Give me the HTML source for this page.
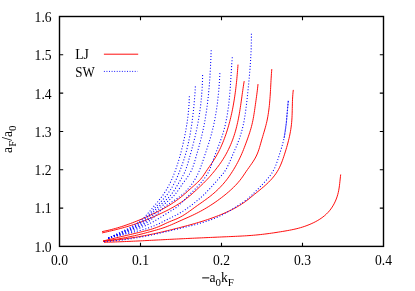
<!DOCTYPE html>
<html><head><meta charset="utf-8"><title>plot</title>
<style>
html,body{margin:0;padding:0;background:#fff;}
svg{display:block;}
text{font-family:"Liberation Serif",serif;fill:#000;}
</style></head><body>
<svg width="415" height="291" viewBox="0 0 415 291">
<rect width="415" height="291" fill="#fff"/>
<g style="mix-blend-mode:multiply">
<g fill="none" stroke="#ff0000" stroke-width="0.95" stroke-linecap="butt">
<path d="M102.10 231.60 L104.05 231.21 L105.99 230.80 L107.93 230.37 L109.86 229.91 L111.78 229.43 L113.70 228.92 L115.61 228.39 L117.52 227.84 L119.41 227.27 L121.31 226.68 L123.19 226.07 L125.07 225.44 L126.94 224.79 L128.81 224.12 L130.67 223.44 L132.53 222.74 L134.38 222.03 L136.22 221.30 L138.06 220.55 L139.89 219.79 L141.72 219.02 L143.54 218.24 L145.35 217.44 L147.16 216.63 L148.97 215.81 L150.76 214.98 L152.56 214.14 L154.35 213.28 L156.13 212.41 L157.90 211.52 L159.66 210.62 L161.42 209.70 L163.16 208.76 L164.90 207.80 L166.62 206.81 L168.33 205.80 L170.03 204.77 L171.71 203.71 L173.37 202.62 L175.02 201.51 L176.64 200.37 L178.24 199.20 L179.82 198.00 L181.37 196.76 L182.89 195.50 L184.39 194.21 L185.87 192.90 L187.35 191.57 L188.81 190.24 L190.29 188.91 L191.77 187.58 L193.27 186.27 L194.76 184.95 L196.24 183.61 L197.69 182.25 L199.09 180.85 L200.43 179.40 L201.69 177.89 L202.87 176.30 L204.00 174.67 L205.09 173.01 L206.17 171.35 L207.28 169.69 L208.40 168.06 L209.53 166.43 L210.67 164.80 L211.79 163.17 L212.90 161.53 L213.98 159.88 L215.02 158.19 L216.03 156.49 L217.01 154.77 L217.95 153.02 L218.86 151.26 L219.74 149.48 L220.59 147.68 L221.41 145.87 L222.20 144.04 L222.96 142.20 L223.69 140.35 L224.40 138.49 L225.09 136.62 L225.75 134.74 L226.39 132.86 L227.00 130.97 L227.59 129.07 L228.16 127.17 L228.71 125.26 L229.24 123.35 L229.75 121.43 L230.24 119.51 L230.71 117.59 L231.17 115.65 L231.60 113.72 L232.02 111.78 L232.42 109.84 L232.80 107.89 L233.17 105.94 L233.52 103.99 L233.85 102.03 L234.18 100.07 L234.48 98.11 L234.78 96.15 L235.06 94.18 L235.32 92.22 L235.58 90.25 L235.82 88.28 L236.05 86.30 L236.28 84.33 L236.49 82.36 L236.69 80.39 L236.88 78.41 L237.06 76.44 L237.24 74.46 L237.40 72.49 L237.56 70.52 L237.71 68.54 L237.86 66.57 L238.00 64.60"/>
<path d="M102.10 232.90 L103.96 232.49 L105.82 232.07 L107.67 231.64 L109.53 231.21 L111.39 230.77 L113.24 230.32 L115.10 229.86 L116.95 229.39 L118.80 228.91 L120.65 228.42 L122.49 227.92 L124.33 227.41 L126.17 226.88 L128.00 226.34 L129.83 225.78 L131.66 225.21 L133.47 224.63 L135.29 224.03 L137.09 223.41 L138.89 222.77 L140.69 222.12 L142.47 221.45 L144.25 220.76 L146.02 220.05 L147.79 219.32 L149.54 218.57 L151.29 217.81 L153.04 217.04 L154.78 216.27 L156.53 215.48 L158.26 214.69 L160.00 213.89 L161.72 213.08 L163.45 212.25 L165.16 211.41 L166.87 210.56 L168.56 209.69 L170.25 208.79 L171.93 207.88 L173.60 206.95 L175.25 205.99 L176.89 205.01 L178.52 204.00 L180.13 202.97 L181.72 201.91 L183.29 200.82 L184.84 199.71 L186.38 198.57 L187.88 197.39 L189.37 196.19 L190.82 194.96 L192.26 193.71 L193.68 192.43 L195.09 191.14 L196.49 189.85 L197.89 188.55 L199.28 187.24 L200.67 185.92 L202.04 184.60 L203.41 183.27 L204.76 181.92 L206.09 180.55 L207.41 179.17 L208.71 177.77 L209.98 176.35 L211.24 174.92 L212.47 173.46 L213.69 171.99 L214.90 170.51 L216.08 169.01 L217.25 167.51 L218.40 165.98 L219.53 164.44 L220.63 162.88 L221.70 161.30 L222.74 159.70 L223.75 158.08 L224.74 156.43 L225.69 154.77 L226.61 153.09 L227.50 151.40 L228.35 149.68 L229.18 147.96 L229.98 146.21 L230.75 144.46 L231.48 142.69 L232.19 140.90 L232.86 139.11 L233.50 137.31 L234.12 135.50 L234.70 133.67 L235.25 131.85 L235.77 130.01 L236.26 128.17 L236.73 126.32 L237.17 124.46 L237.59 122.60 L237.99 120.74 L238.37 118.86 L238.73 116.99 L239.08 115.11 L239.41 113.23 L239.72 111.34 L240.03 109.45 L240.32 107.56 L240.61 105.67 L240.88 103.78 L241.16 101.88 L241.42 99.99 L241.69 98.09 L241.95 96.20 L242.21 94.30 L242.48 92.41 L242.75 90.52 L243.02 88.63 L243.30 86.74 L243.59 84.86 L243.89 82.98 L244.20 81.10"/>
<path d="M103.00 241.00 L104.99 240.52 L106.98 240.04 L108.96 239.56 L110.95 239.09 L112.94 238.61 L114.92 238.14 L116.90 237.67 L118.89 237.20 L120.87 236.74 L122.85 236.27 L124.84 235.80 L126.82 235.33 L128.81 234.87 L130.79 234.40 L132.78 233.93 L134.76 233.45 L136.75 232.98 L138.74 232.50 L140.73 232.02 L142.72 231.54 L144.70 231.05 L146.68 230.53 L148.66 230.00 L150.62 229.43 L152.58 228.84 L154.51 228.20 L156.43 227.51 L158.33 226.78 L160.21 225.98 L162.06 225.14 L163.91 224.27 L165.76 223.40 L167.61 222.54 L169.48 221.72 L171.37 220.95 L173.28 220.21 L175.18 219.47 L177.06 218.68 L178.89 217.81 L180.70 216.87 L182.46 215.86 L184.20 214.80 L185.92 213.69 L187.61 212.54 L189.29 211.36 L190.96 210.16 L192.62 208.96 L194.28 207.74 L195.94 206.54 L197.61 205.35 L199.28 204.17 L200.96 203.00 L202.62 201.82 L204.29 200.64 L205.94 199.45 L207.58 198.24 L209.21 197.01 L210.81 195.75 L212.39 194.46 L213.95 193.13 L215.48 191.78 L216.99 190.39 L218.47 188.97 L219.91 187.51 L221.33 186.03 L222.71 184.52 L224.05 182.98 L225.37 181.41 L226.64 179.80 L227.87 178.18 L229.06 176.52 L230.22 174.84 L231.34 173.13 L232.44 171.41 L233.52 169.68 L234.57 167.93 L235.60 166.16 L236.60 164.38 L237.57 162.59 L238.51 160.77 L239.42 158.95 L240.29 157.10 L241.13 155.25 L241.95 153.38 L242.74 151.49 L243.50 149.60 L244.25 147.70 L244.98 145.79 L245.70 143.88 L246.41 141.96 L247.11 140.04 L247.80 138.11 L248.48 136.18 L249.13 134.25 L249.77 132.31 L250.37 130.36 L250.95 128.40 L251.49 126.43 L251.99 124.46 L252.45 122.47 L252.87 120.48 L253.26 118.48 L253.62 116.47 L253.95 114.45 L254.27 112.43 L254.57 110.41 L254.86 108.39 L255.15 106.37 L255.44 104.34 L255.72 102.32 L256.01 100.30 L256.29 98.28 L256.57 96.26 L256.84 94.24 L257.10 92.21 L257.35 90.19 L257.58 88.16 L257.80 86.13 L258.00 84.10"/>
<path d="M103.00 241.20 L105.26 240.91 L107.51 240.60 L109.77 240.28 L112.02 239.94 L114.27 239.59 L116.52 239.23 L118.76 238.85 L121.01 238.45 L123.25 238.04 L125.48 237.61 L127.72 237.17 L129.95 236.71 L132.17 236.23 L134.40 235.74 L136.61 235.22 L138.83 234.69 L141.04 234.14 L143.24 233.57 L145.44 232.99 L147.64 232.40 L149.84 231.80 L152.03 231.19 L154.23 230.58 L156.42 229.96 L158.61 229.33 L160.79 228.66 L162.96 227.97 L165.11 227.22 L167.24 226.43 L169.35 225.59 L171.45 224.71 L173.54 223.80 L175.62 222.88 L177.70 221.94 L179.78 221.00 L181.86 220.07 L183.94 219.15 L186.02 218.23 L188.10 217.30 L190.18 216.36 L192.25 215.41 L194.30 214.43 L196.34 213.43 L198.37 212.40 L200.38 211.33 L202.37 210.24 L204.35 209.11 L206.31 207.96 L208.26 206.77 L210.19 205.56 L212.10 204.32 L214.00 203.05 L215.88 201.75 L217.74 200.43 L219.58 199.08 L221.41 197.70 L223.22 196.30 L225.02 194.87 L226.79 193.41 L228.54 191.93 L230.26 190.41 L231.94 188.86 L233.59 187.28 L235.20 185.66 L236.76 184.00 L238.27 182.30 L239.73 180.55 L241.13 178.77 L242.47 176.93 L243.76 175.06 L245.03 173.17 L246.31 171.28 L247.61 169.40 L248.94 167.54 L250.28 165.67 L251.59 163.80 L252.87 161.91 L254.09 159.99 L255.24 158.04 L256.29 156.03 L257.23 153.98 L258.06 151.88 L258.82 149.73 L259.51 147.56 L260.15 145.36 L260.78 143.16 L261.40 140.95 L262.04 138.75 L262.69 136.56 L263.34 134.37 L263.99 132.19 L264.63 130.01 L265.25 127.82 L265.84 125.63 L266.40 123.43 L266.91 121.22 L267.37 119.00 L267.79 116.76 L268.17 114.52 L268.51 112.27 L268.82 110.01 L269.10 107.75 L269.35 105.48 L269.57 103.20 L269.77 100.93 L269.95 98.64 L270.12 96.36 L270.27 94.07 L270.41 91.79 L270.54 89.50 L270.66 87.22 L270.78 84.94 L270.90 82.66 L271.03 80.38 L271.16 78.11 L271.30 75.85 L271.45 73.59 L271.62 71.34 L271.80 69.10"/>
<path d="M103.00 241.30 L105.32 241.10 L107.64 240.89 L109.95 240.66 L112.27 240.42 L114.58 240.17 L116.89 239.90 L119.20 239.62 L121.51 239.33 L123.82 239.02 L126.12 238.71 L128.43 238.37 L130.73 238.03 L133.03 237.67 L135.32 237.30 L137.62 236.91 L139.91 236.52 L142.20 236.10 L144.49 235.68 L146.78 235.24 L149.06 234.79 L151.34 234.32 L153.62 233.85 L155.89 233.35 L158.16 232.85 L160.43 232.33 L162.70 231.81 L164.96 231.28 L167.23 230.73 L169.49 230.18 L171.75 229.62 L174.00 229.06 L176.26 228.49 L178.52 227.91 L180.77 227.33 L183.03 226.75 L185.28 226.15 L187.53 225.55 L189.77 224.94 L192.02 224.32 L194.25 223.68 L196.49 223.03 L198.72 222.37 L200.95 221.69 L203.17 221.00 L205.39 220.29 L207.60 219.55 L209.80 218.80 L212.00 218.03 L214.19 217.23 L216.37 216.41 L218.54 215.57 L220.71 214.70 L222.87 213.80 L225.02 212.88 L227.15 211.92 L229.27 210.93 L231.38 209.91 L233.46 208.84 L235.52 207.74 L237.56 206.60 L239.56 205.41 L241.54 204.18 L243.48 202.89 L245.39 201.56 L247.25 200.18 L249.08 198.74 L250.88 197.26 L252.67 195.78 L254.48 194.30 L256.29 192.84 L258.10 191.37 L259.91 189.90 L261.70 188.42 L263.47 186.91 L265.22 185.38 L266.94 183.81 L268.62 182.20 L270.25 180.53 L271.83 178.81 L273.34 177.03 L274.78 175.19 L276.14 173.30 L277.40 171.34 L278.55 169.33 L279.60 167.26 L280.57 165.14 L281.46 162.99 L282.30 160.81 L283.09 158.60 L283.84 156.39 L284.57 154.17 L285.28 151.95 L285.97 149.72 L286.64 147.49 L287.27 145.25 L287.88 143.01 L288.46 140.76 L289.01 138.50 L289.52 136.23 L289.98 133.95 L290.41 131.66 L290.79 129.36 L291.13 127.05 L291.42 124.74 L291.65 122.43 L291.84 120.11 L291.98 117.79 L292.09 115.47 L292.17 113.14 L292.23 110.81 L292.28 108.48 L292.33 106.16 L292.38 103.83 L292.45 101.50 L292.54 99.18 L292.66 96.85 L292.83 94.53 L293.04 92.21 L293.30 89.90"/>
<path d="M104.00 242.30 L106.27 242.24 L108.53 242.17 L110.80 242.09 L113.07 242.02 L115.33 241.94 L117.60 241.85 L119.87 241.77 L122.13 241.68 L124.40 241.58 L126.66 241.49 L128.93 241.39 L131.19 241.29 L133.46 241.18 L135.72 241.08 L137.99 240.97 L140.26 240.86 L142.52 240.75 L144.79 240.64 L147.05 240.53 L149.32 240.41 L151.58 240.30 L153.85 240.18 L156.11 240.06 L158.37 239.95 L160.64 239.83 L162.90 239.71 L165.17 239.60 L167.43 239.48 L169.70 239.37 L171.96 239.25 L174.23 239.14 L176.49 239.03 L178.76 238.91 L181.02 238.80 L183.29 238.69 L185.55 238.59 L187.82 238.48 L190.08 238.37 L192.35 238.27 L194.61 238.16 L196.88 238.06 L199.14 237.96 L201.41 237.86 L203.67 237.75 L205.94 237.65 L208.20 237.55 L210.47 237.45 L212.73 237.35 L215.00 237.25 L217.27 237.15 L219.53 237.05 L221.80 236.95 L224.06 236.85 L226.33 236.75 L228.60 236.65 L230.86 236.55 L233.13 236.45 L235.40 236.35 L237.66 236.24 L239.93 236.13 L242.19 236.01 L244.46 235.88 L246.72 235.74 L248.98 235.59 L251.24 235.43 L253.50 235.24 L255.76 235.04 L258.02 234.82 L260.27 234.58 L262.52 234.33 L264.77 234.06 L267.02 233.77 L269.27 233.47 L271.52 233.16 L273.76 232.83 L276.01 232.49 L278.25 232.14 L280.49 231.78 L282.73 231.41 L284.97 231.04 L287.21 230.65 L289.44 230.24 L291.67 229.81 L293.89 229.34 L296.10 228.84 L298.30 228.29 L300.48 227.68 L302.65 227.02 L304.81 226.31 L306.94 225.53 L309.05 224.70 L311.14 223.80 L313.21 222.85 L315.24 221.83 L317.23 220.75 L319.18 219.58 L321.08 218.34 L322.92 217.00 L324.69 215.58 L326.39 214.06 L327.99 212.45 L329.49 210.75 L330.89 208.96 L332.18 207.09 L333.36 205.14 L334.44 203.14 L335.41 201.09 L336.28 198.99 L337.05 196.85 L337.71 194.68 L338.27 192.48 L338.73 190.26 L339.11 188.02 L339.43 185.77 L339.70 183.52 L339.94 181.26 L340.18 179.00 L340.43 176.74 L340.70 174.50"/>
</g>
<g fill="none" stroke="#0000ff" stroke-width="1.05" stroke-dasharray="1.05 1.9">
<path d="M108.30 238.20 L109.57 237.54 L110.86 236.88 L112.16 236.24 L113.48 235.60 L114.80 234.97 L116.12 234.34 L117.46 233.71 L118.80 233.08 L120.14 232.45 L121.48 231.82 L122.81 231.18 L124.15 230.54 L125.48 229.89 L126.81 229.22 L128.12 228.55 L129.43 227.86 L130.73 227.15 L132.01 226.43 L133.28 225.68 L134.53 224.92 L135.76 224.13 L136.97 223.32 L138.17 222.49 L139.33 221.62 L140.48 220.72 L141.59 219.80 L142.68 218.84 L143.74 217.84 L144.77 216.82 L145.78 215.77 L146.77 214.69 L147.75 213.60 L148.71 212.49 L149.66 211.37 L150.60 210.24 L151.54 209.11 L152.48 207.98 L153.43 206.85 L154.38 205.72 L155.33 204.61 L156.28 203.49 L157.22 202.37 L158.16 201.25 L159.09 200.12 L160.01 198.99 L160.91 197.84 L161.80 196.68 L162.66 195.50 L163.50 194.31 L164.32 193.10 L165.12 191.87 L165.90 190.63 L166.66 189.38 L167.39 188.11 L168.11 186.83 L168.81 185.54 L169.49 184.23 L170.14 182.92 L170.79 181.59 L171.41 180.26 L172.01 178.92 L172.60 177.57 L173.17 176.21 L173.73 174.85 L174.27 173.48 L174.79 172.11 L175.30 170.73 L175.79 169.35 L176.27 167.96 L176.74 166.58 L177.20 165.19 L177.64 163.79 L178.08 162.40 L178.50 161.00 L178.92 159.60 L179.33 158.19 L179.73 156.79 L180.13 155.38 L180.52 153.97 L180.90 152.56 L181.27 151.14 L181.64 149.73 L182.00 148.31 L182.35 146.88 L182.69 145.46 L183.03 144.04 L183.35 142.61 L183.67 141.18 L183.99 139.75 L184.29 138.32 L184.59 136.88 L184.88 135.45 L185.16 134.01 L185.43 132.57 L185.69 131.13 L185.95 129.68 L186.20 128.24 L186.44 126.79 L186.67 125.35 L186.89 123.90 L187.11 122.45 L187.31 121.00 L187.51 119.54 L187.70 118.09 L187.87 116.64 L188.04 115.18 L188.20 113.73 L188.35 112.27 L188.49 110.81 L188.62 109.35 L188.74 107.89 L188.86 106.43 L188.96 104.97 L189.05 103.51 L189.13 102.05 L189.20 100.59 L189.26 99.13 L189.31 97.66 L189.35 96.20" stroke-dasharray="1.050 1.888"/>
<path d="M108.30 238.20 L109.69 237.53 L111.10 236.88 L112.52 236.24 L113.95 235.60 L115.40 234.97 L116.85 234.34 L118.31 233.71 L119.78 233.09 L121.25 232.46 L122.71 231.82 L124.18 231.18 L125.64 230.52 L127.10 229.86 L128.54 229.18 L129.98 228.48 L131.41 227.77 L132.82 227.04 L134.21 226.28 L135.59 225.50 L136.94 224.69 L138.27 223.86 L139.58 222.99 L140.86 222.09 L142.11 221.15 L143.33 220.18 L144.52 219.16 L145.67 218.11 L146.79 217.02 L147.88 215.89 L148.96 214.74 L150.01 213.57 L151.06 212.39 L152.10 211.20 L153.14 210.00 L154.18 208.81 L155.23 207.62 L156.30 206.46 L157.38 205.30 L158.47 204.16 L159.57 203.02 L160.67 201.89 L161.76 200.75 L162.83 199.60 L163.89 198.44 L164.93 197.26 L165.95 196.07 L166.93 194.84 L167.88 193.59 L168.80 192.32 L169.69 191.02 L170.55 189.70 L171.38 188.37 L172.19 187.01 L172.98 185.64 L173.74 184.25 L174.47 182.84 L175.19 181.43 L175.89 180.00 L176.56 178.56 L177.22 177.11 L177.86 175.66 L178.49 174.20 L179.10 172.73 L179.69 171.26 L180.28 169.79 L180.85 168.32 L181.41 166.84 L181.95 165.37 L182.48 163.88 L183.00 162.40 L183.50 160.91 L183.99 159.41 L184.46 157.91 L184.92 156.41 L185.36 154.90 L185.79 153.38 L186.21 151.86 L186.61 150.34 L187.00 148.81 L187.38 147.28 L187.74 145.74 L188.09 144.20 L188.44 142.66 L188.77 141.12 L189.09 139.57 L189.40 138.03 L189.70 136.48 L189.99 134.93 L190.27 133.37 L190.54 131.82 L190.80 130.26 L191.06 128.71 L191.30 127.15 L191.54 125.59 L191.77 124.03 L191.99 122.47 L192.21 120.91 L192.41 119.35 L192.61 117.79 L192.81 116.22 L192.99 114.66 L193.17 113.09 L193.35 111.52 L193.51 109.96 L193.67 108.39 L193.83 106.82 L193.98 105.25 L194.12 103.68 L194.26 102.11 L194.39 100.54 L194.52 98.97 L194.65 97.40 L194.77 95.83 L194.88 94.26 L194.99 92.69 L195.10 91.12 L195.20 89.54 L195.30 87.97 L195.40 86.40" stroke-dasharray="1.050 1.914"/>
<path d="M108.30 238.20 L109.82 237.52 L111.35 236.86 L112.91 236.20 L114.48 235.56 L116.06 234.92 L117.66 234.28 L119.26 233.65 L120.87 233.01 L122.48 232.37 L124.09 231.72 L125.69 231.06 L127.29 230.39 L128.89 229.70 L130.47 229.00 L132.04 228.27 L133.59 227.52 L135.13 226.74 L136.64 225.94 L138.13 225.10 L139.59 224.23 L141.03 223.32 L142.43 222.37 L143.80 221.37 L145.13 220.34 L146.42 219.25 L147.67 218.11 L148.88 216.93 L150.06 215.71 L151.23 214.47 L152.38 213.21 L153.53 211.94 L154.68 210.67 L155.84 209.42 L157.02 208.18 L158.24 206.96 L159.48 205.79 L160.75 204.64 L162.04 203.50 L163.33 202.38 L164.62 201.25 L165.89 200.11 L167.13 198.96 L168.35 197.77 L169.51 196.54 L170.62 195.27 L171.68 193.95 L172.69 192.58 L173.66 191.18 L174.59 189.75 L175.51 188.30 L176.40 186.84 L177.28 185.36 L178.17 183.89 L179.05 182.42 L179.94 180.94 L180.81 179.47 L181.67 177.99 L182.50 176.51 L183.30 175.00 L184.07 173.49 L184.79 171.95 L185.45 170.39 L186.07 168.80 L186.63 167.20 L187.16 165.58 L187.66 163.94 L188.15 162.30 L188.61 160.66 L189.08 159.01 L189.54 157.36 L190.01 155.72 L190.47 154.07 L190.93 152.43 L191.38 150.79 L191.83 149.14 L192.28 147.50 L192.72 145.85 L193.15 144.20 L193.58 142.55 L194.00 140.90 L194.42 139.25 L194.82 137.60 L195.22 135.94 L195.60 134.28 L195.98 132.62 L196.34 130.96 L196.70 129.29 L197.04 127.62 L197.38 125.95 L197.70 124.28 L198.01 122.60 L198.32 120.92 L198.61 119.24 L198.89 117.56 L199.16 115.87 L199.42 114.18 L199.67 112.50 L199.92 110.81 L200.15 109.11 L200.37 107.42 L200.58 105.73 L200.77 104.03 L200.96 102.33 L201.14 100.63 L201.31 98.94 L201.47 97.24 L201.62 95.54 L201.76 93.83 L201.88 92.13 L202.00 90.43 L202.11 88.73 L202.21 87.02 L202.29 85.32 L202.37 83.62 L202.44 81.91 L202.49 80.21 L202.54 78.51 L202.57 76.80 L202.60 75.10" stroke-dasharray="1.050 1.879"/>
<path d="M108.30 238.20 L110.05 237.48 L111.83 236.77 L113.64 236.08 L115.46 235.40 L117.30 234.73 L119.16 234.06 L121.02 233.38 L122.89 232.71 L124.75 232.02 L126.62 231.32 L128.48 230.60 L130.33 229.86 L132.16 229.10 L133.98 228.30 L135.78 227.48 L137.55 226.62 L139.29 225.71 L141.00 224.77 L142.67 223.77 L144.31 222.72 L145.90 221.62 L147.44 220.46 L148.94 219.23 L150.37 217.94 L151.77 216.58 L153.13 215.19 L154.47 213.77 L155.80 212.33 L157.14 210.90 L158.49 209.48 L159.87 208.08 L161.29 206.73 L162.76 205.43 L164.26 204.16 L165.78 202.92 L167.30 201.68 L168.81 200.44 L170.29 199.17 L171.73 197.86 L173.12 196.51 L174.43 195.09 L175.67 193.60 L176.86 192.06 L178.01 190.49 L179.13 188.88 L180.25 187.26 L181.36 185.64 L182.49 184.02 L183.64 182.42 L184.81 180.83 L185.97 179.25 L187.12 177.66 L188.23 176.05 L189.29 174.42 L190.28 172.75 L191.18 171.04 L191.99 169.28 L192.72 167.47 L193.37 165.63 L193.98 163.76 L194.55 161.88 L195.10 159.99 L195.65 158.11 L196.20 156.22 L196.75 154.34 L197.29 152.46 L197.82 150.58 L198.35 148.70 L198.88 146.82 L199.39 144.94 L199.90 143.06 L200.40 141.17 L200.88 139.29 L201.36 137.40 L201.82 135.50 L202.26 133.61 L202.69 131.71 L203.11 129.80 L203.51 127.90 L203.89 125.98 L204.27 124.07 L204.63 122.15 L204.97 120.23 L205.31 118.30 L205.63 116.38 L205.94 114.45 L206.23 112.51 L206.52 110.58 L206.79 108.64 L207.05 106.70 L207.31 104.76 L207.55 102.82 L207.78 100.87 L208.00 98.92 L208.21 96.98 L208.41 95.03 L208.61 93.08 L208.79 91.12 L208.97 89.17 L209.13 87.22 L209.30 85.27 L209.45 83.31 L209.59 81.36 L209.73 79.40 L209.87 77.45 L209.99 75.50 L210.11 73.54 L210.23 71.59 L210.34 69.64 L210.44 67.69 L210.54 65.74 L210.63 63.79 L210.72 61.85 L210.81 59.90 L210.90 57.96 L210.98 56.01 L211.05 54.07 L211.13 52.14 L211.20 50.20" stroke-dasharray="1.050 1.882"/>
<path d="M108.30 238.20 L109.95 237.58 L111.63 236.96 L113.32 236.37 L115.03 235.78 L116.75 235.19 L118.48 234.61 L120.22 234.03 L121.97 233.44 L123.71 232.85 L125.46 232.25 L127.21 231.65 L128.96 231.02 L130.69 230.38 L132.42 229.72 L134.13 229.04 L135.84 228.33 L137.52 227.60 L139.18 226.83 L140.83 226.03 L142.44 225.19 L144.04 224.32 L145.60 223.40 L147.13 222.44 L148.62 221.42 L150.08 220.36 L151.50 219.25 L152.88 218.08 L154.22 216.86 L155.54 215.60 L156.84 214.33 L158.13 213.04 L159.42 211.75 L160.72 210.48 L162.05 209.23 L163.40 208.01 L164.79 206.85 L166.22 205.74 L167.69 204.68 L169.19 203.65 L170.71 202.65 L172.24 201.66 L173.77 200.68 L175.31 199.70 L176.83 198.70 L178.33 197.67 L179.81 196.60 L181.25 195.49 L182.65 194.32 L184.01 193.11 L185.33 191.84 L186.61 190.53 L187.85 189.18 L189.05 187.79 L190.21 186.36 L191.32 184.89 L192.40 183.39 L193.43 181.86 L194.41 180.30 L195.36 178.71 L196.26 177.10 L197.12 175.47 L197.93 173.82 L198.70 172.16 L199.42 170.48 L200.10 168.78 L200.75 167.08 L201.36 165.37 L201.96 163.66 L202.55 161.94 L203.13 160.22 L203.71 158.50 L204.29 156.78 L204.87 155.05 L205.45 153.33 L206.03 151.61 L206.61 149.88 L207.18 148.16 L207.75 146.43 L208.31 144.70 L208.85 142.96 L209.39 141.23 L209.92 139.49 L210.43 137.74 L210.93 135.99 L211.42 134.24 L211.88 132.49 L212.33 130.72 L212.77 128.96 L213.18 127.19 L213.58 125.42 L213.97 123.64 L214.34 121.86 L214.70 120.08 L215.04 118.29 L215.37 116.50 L215.68 114.71 L215.98 112.91 L216.27 111.11 L216.55 109.31 L216.81 107.51 L217.06 105.71 L217.30 103.90 L217.53 102.09 L217.74 100.29 L217.95 98.48 L218.14 96.66 L218.33 94.85 L218.50 93.04 L218.67 91.23 L218.83 89.41 L218.98 87.60 L219.12 85.78 L219.25 83.97 L219.38 82.16 L219.49 80.34 L219.61 78.53 L219.71 76.72 L219.81 74.91 L219.90 73.10" stroke-dasharray="1.050 1.907"/>
<path d="M108.30 238.20 L110.24 237.66 L112.18 237.12 L114.12 236.57 L116.06 236.01 L118.01 235.45 L119.96 234.87 L121.90 234.29 L123.85 233.69 L125.79 233.08 L127.72 232.46 L129.65 231.81 L131.58 231.15 L133.50 230.48 L135.41 229.78 L137.31 229.06 L139.20 228.31 L141.08 227.55 L142.95 226.75 L144.80 225.93 L146.64 225.08 L148.47 224.20 L150.28 223.29 L152.07 222.35 L153.84 221.38 L155.59 220.36 L157.33 219.32 L159.05 218.26 L160.77 217.18 L162.49 216.10 L164.20 215.02 L165.92 213.96 L167.65 212.90 L169.38 211.85 L171.11 210.80 L172.85 209.74 L174.56 208.65 L176.23 207.50 L177.82 206.26 L179.36 204.94 L180.84 203.55 L182.28 202.12 L183.70 200.67 L185.10 199.22 L186.50 197.76 L187.91 196.30 L189.34 194.84 L190.78 193.39 L192.23 191.93 L193.69 190.48 L195.13 189.01 L196.57 187.54 L197.99 186.05 L199.38 184.55 L200.74 183.02 L202.06 181.47 L203.34 179.89 L204.56 178.28 L205.72 176.64 L206.81 174.95 L207.83 173.23 L208.77 171.46 L209.63 169.64 L210.41 167.78 L211.13 165.89 L211.82 163.98 L212.49 162.05 L213.16 160.13 L213.84 158.21 L214.55 156.30 L215.27 154.40 L216.00 152.50 L216.73 150.61 L217.47 148.72 L218.20 146.83 L218.93 144.94 L219.65 143.05 L220.35 141.16 L221.04 139.26 L221.70 137.35 L222.34 135.43 L222.94 133.51 L223.52 131.58 L224.06 129.63 L224.58 127.68 L225.06 125.72 L225.52 123.75 L225.95 121.77 L226.35 119.79 L226.73 117.80 L227.09 115.80 L227.42 113.80 L227.74 111.79 L228.03 109.78 L228.31 107.76 L228.56 105.74 L228.80 103.71 L229.03 101.68 L229.24 99.65 L229.44 97.61 L229.62 95.58 L229.80 93.54 L229.96 91.50 L230.11 89.47 L230.26 87.43 L230.40 85.39 L230.54 83.36 L230.67 81.32 L230.80 79.29 L230.92 77.26 L231.04 75.23 L231.17 73.21 L231.29 71.19 L231.42 69.17 L231.55 67.16 L231.69 65.16 L231.83 63.16 L231.98 61.17 L232.13 59.18 L232.30 57.20" stroke-dasharray="1.050 1.917"/>
<path d="M108.30 238.20 L110.54 237.60 L112.80 237.03 L115.07 236.48 L117.35 235.93 L119.63 235.40 L121.93 234.88 L124.23 234.36 L126.53 233.83 L128.84 233.30 L131.14 232.76 L133.44 232.21 L135.74 231.64 L138.03 231.05 L140.31 230.44 L142.58 229.79 L144.83 229.11 L147.08 228.40 L149.30 227.64 L151.51 226.84 L153.70 226.00 L155.86 225.09 L158.00 224.14 L160.12 223.12 L162.22 222.07 L164.31 220.99 L166.40 219.91 L168.50 218.85 L170.61 217.83 L172.73 216.81 L174.84 215.78 L176.94 214.71 L179.00 213.59 L181.04 212.41 L183.04 211.17 L185.00 209.87 L186.92 208.52 L188.82 207.14 L190.70 205.73 L192.57 204.30 L194.43 202.85 L196.27 201.38 L198.08 199.89 L199.87 198.36 L201.62 196.80 L203.34 195.21 L205.03 193.58 L206.68 191.92 L208.31 190.23 L209.91 188.52 L211.50 186.78 L213.08 185.04 L214.64 183.28 L216.20 181.51 L217.76 179.74 L219.33 177.97 L220.89 176.20 L222.42 174.41 L223.88 172.57 L225.23 170.66 L226.43 168.66 L227.53 166.59 L228.54 164.46 L229.51 162.30 L230.45 160.13 L231.39 157.96 L232.33 155.79 L233.28 153.63 L234.22 151.46 L235.15 149.30 L236.06 147.13 L236.96 144.96 L237.82 142.78 L238.65 140.59 L239.45 138.39 L240.20 136.17 L240.91 133.94 L241.57 131.70 L242.17 129.44 L242.73 127.16 L243.25 124.88 L243.74 122.58 L244.18 120.27 L244.59 117.95 L244.97 115.63 L245.33 113.29 L245.66 110.96 L245.97 108.62 L246.26 106.27 L246.54 103.92 L246.81 101.58 L247.07 99.23 L247.32 96.89 L247.57 94.55 L247.81 92.21 L248.05 89.87 L248.29 87.53 L248.52 85.19 L248.75 82.86 L248.97 80.52 L249.18 78.18 L249.39 75.84 L249.59 73.50 L249.79 71.16 L249.98 68.82 L250.16 66.48 L250.33 64.13 L250.49 61.79 L250.63 59.44 L250.77 57.09 L250.90 54.74 L251.01 52.40 L251.11 50.05 L251.20 47.70 L251.27 45.35 L251.33 43.00 L251.37 40.65 L251.40 38.30 L251.41 35.95 L251.40 33.60" stroke-dasharray="1.050 1.884"/>
<path d="M104.00 241.50 L106.20 241.39 L108.40 241.26 L110.59 241.11 L112.78 240.93 L114.97 240.73 L117.16 240.51 L119.35 240.27 L121.53 240.01 L123.71 239.74 L125.89 239.45 L128.07 239.14 L130.24 238.81 L132.41 238.48 L134.58 238.13 L136.75 237.76 L138.92 237.39 L141.09 237.01 L143.25 236.61 L145.41 236.21 L147.57 235.79 L149.72 235.36 L151.88 234.91 L154.02 234.45 L156.17 233.99 L158.31 233.51 L160.45 233.02 L162.59 232.52 L164.73 232.02 L166.87 231.52 L169.01 231.01 L171.15 230.50 L173.29 229.98 L175.44 229.47 L177.59 228.96 L179.74 228.45 L181.89 227.94 L184.05 227.43 L186.20 226.92 L188.36 226.39 L190.51 225.86 L192.66 225.32 L194.80 224.76 L196.94 224.18 L199.07 223.59 L201.19 222.98 L203.30 222.34 L205.40 221.67 L207.49 220.98 L209.56 220.26 L211.62 219.51 L213.67 218.72 L215.69 217.89 L217.70 217.03 L219.69 216.12 L221.66 215.17 L223.61 214.17 L225.54 213.13 L227.45 212.05 L229.34 210.94 L231.22 209.80 L233.09 208.64 L234.96 207.45 L236.81 206.26 L238.67 205.06 L240.52 203.87 L242.36 202.66 L244.19 201.43 L245.98 200.16 L247.72 198.82 L249.40 197.41 L251.02 195.92 L252.60 194.39 L254.16 192.84 L255.72 191.29 L257.27 189.73 L258.82 188.17 L260.36 186.61 L261.89 185.03 L263.41 183.43 L264.91 181.81 L266.40 180.17 L267.85 178.50 L269.24 176.79 L270.56 175.03 L271.80 173.22 L272.94 171.35 L273.97 169.43 L274.91 167.45 L275.76 165.42 L276.54 163.36 L277.27 161.28 L277.97 159.17 L278.64 157.06 L279.31 154.95 L279.97 152.84 L280.63 150.73 L281.28 148.62 L281.90 146.52 L282.51 144.41 L283.08 142.29 L283.61 140.16 L284.09 138.03 L284.53 135.88 L284.92 133.72 L285.27 131.55 L285.57 129.37 L285.85 127.18 L286.10 124.99 L286.32 122.80 L286.52 120.60 L286.71 118.40 L286.90 116.20 L287.07 114.00 L287.25 111.80 L287.43 109.61 L287.62 107.42 L287.83 105.24 L288.05 103.06 L288.30 100.90" stroke-dasharray="1.050 1.914"/>
</g>
<path d="M284.1 138 L285.3 130 L286.3 123 L287.3 112 L288.3 100.9" fill="none" stroke="#0000ff" stroke-width="0.85" stroke-dasharray="1 0.6"/>
<path d="M103.9 54.2H138.2" stroke="#ff0000" stroke-width="0.95" fill="none"/>
<path d="M103.9 71.4H137.6" stroke="#0000ff" stroke-width="0.95" stroke-dasharray="0.95 1.62" fill="none"/>
<text x="75.3" y="59.3" font-size="13.6">LJ</text>
<text x="75.3" y="76.5" font-size="13.6" textLength="19.5" lengthAdjust="spacingAndGlyphs">SW</text>
<g stroke="#000" stroke-width="1.4" fill="none">
<rect x="59.50" y="16.50" width="324.00" height="229.90"/>
<path d="M59.50 208.08h3.7 M383.50 208.08h-3.7 M59.50 169.77h3.7 M383.50 169.77h-3.7 M59.50 131.45h3.7 M383.50 131.45h-3.7 M59.50 93.13h3.7 M383.50 93.13h-3.7 M59.50 54.82h3.7 M383.50 54.82h-3.7 M140.50 246.40v-3.7 M140.50 16.50v3.7 M221.50 246.40v-3.7 M221.50 16.50v3.7 M302.50 246.40v-3.7 M302.50 16.50v3.7 " stroke-width="1.1"/>
</g>
<text x="51.6" y="251.80" font-size="13.6" text-anchor="end">1.0</text>
<text x="51.6" y="213.48" font-size="13.6" text-anchor="end">1.1</text>
<text x="51.6" y="175.17" font-size="13.6" text-anchor="end">1.2</text>
<text x="51.6" y="136.85" font-size="13.6" text-anchor="end">1.3</text>
<text x="51.6" y="98.53" font-size="13.6" text-anchor="end">1.4</text>
<text x="51.6" y="60.22" font-size="13.6" text-anchor="end">1.5</text>
<text x="51.6" y="21.90" font-size="13.6" text-anchor="end">1.6</text>
<text x="59.50" y="265.0" font-size="13.6" text-anchor="middle">0.0</text>
<text x="140.50" y="265.0" font-size="13.6" text-anchor="middle">0.1</text>
<text x="221.50" y="265.0" font-size="13.6" text-anchor="middle">0.2</text>
<text x="302.50" y="265.0" font-size="13.6" text-anchor="middle">0.3</text>
<text x="383.50" y="265.0" font-size="13.6" text-anchor="middle">0.4</text>
<path d="M202.2 277.9H209.3" stroke="#000" stroke-width="1" fill="none"/>
<text x="209.5" y="281.6" font-size="13.6">a<tspan font-size="10.9" dy="4.2">0</tspan><tspan dy="-4.2">k</tspan><tspan font-size="10.9" dy="4.2">F</tspan></text>
<text transform="translate(11.8 152.9) rotate(-90)" font-size="13.6">a<tspan font-size="10.9" dy="4.2">F</tspan><tspan dy="-4.2">/a</tspan><tspan font-size="10.9" dy="4.2">0</tspan></text>
</g>
</svg>
</body></html>
